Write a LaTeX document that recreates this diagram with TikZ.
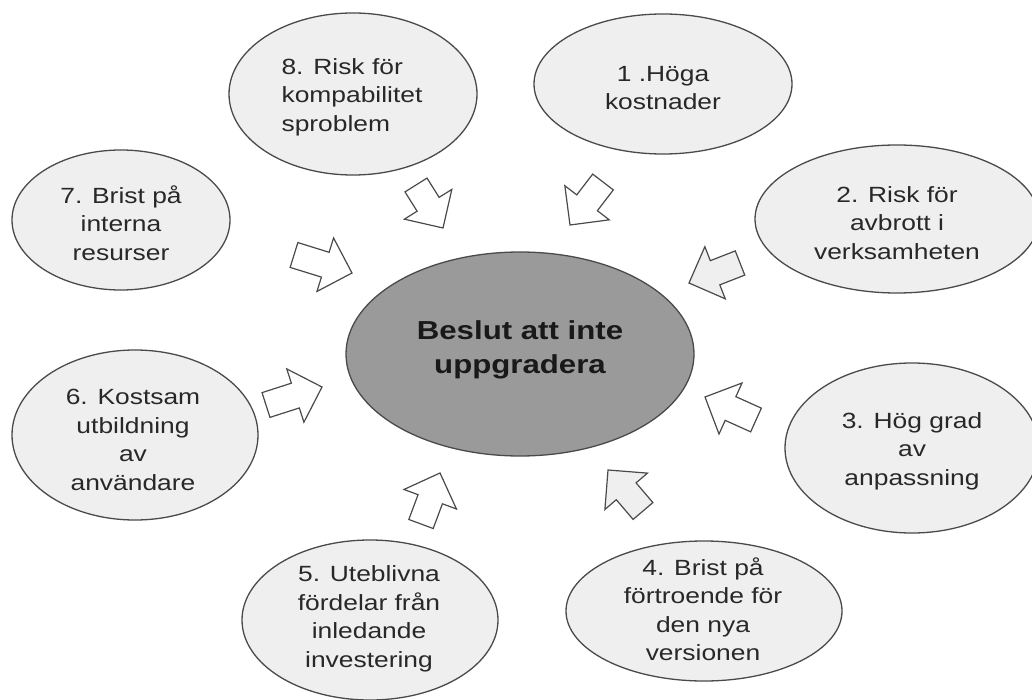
\documentclass[tikz,border=0pt]{standalone}
\usepackage{fontspec}
\setmainfont{Liberation Sans}[FakeStretch=1.2]
\usetikzlibrary{shapes.geometric,calc}
\definecolor{bubfill}{HTML}{EFEFEF}
\definecolor{ctrfill}{HTML}{9A9A9A}
\definecolor{edgecol}{HTML}{4A4A4A}
\definecolor{txtcol}{HTML}{282828}
\tikzset{
  bub/.style={ellipse, draw=edgecol, fill=bubfill, line width=1.3pt, inner sep=0pt},
  lbl/.style={text=txtcol, align=center, font=\fontsize{22}{28.5}\selectfont, inner sep=0pt},
  ctrlbl/.style={text=black!90, align=center, font=\fontsize{26}{34}\selectfont\bfseries, inner sep=0pt},
  blk/.style={draw=edgecol, line width=1.2pt, fill=white, line join=miter},
  blkgray/.style={blk, fill=bubfill}
}
% #1 name, #2 style, #3 tail centre, #4 tip
\newcommand\blockarrow[4]{%
  \coordinate (#1t) at (#3);
  \coordinate (#1h) at (#4);
  \coordinate (#1b) at ($(#1h)!28pt!(#1t)$);
  \draw[#2] ($(#1t)!13pt!90:(#1h)$) -- ($(#1b)!13pt!90:(#1h)$) -- ($(#1b)!28pt!90:(#1h)$)
    -- (#1h) -- ($(#1b)!28pt!-90:(#1h)$) -- ($(#1b)!13pt!-90:(#1h)$) -- ($(#1t)!13pt!-90:(#1h)$) -- cycle;
}
\begin{document}
\begin{tikzpicture}[x=1pt,y=-1pt]
\useasboundingbox (0,0) rectangle (1032,700);

% central ellipse
\node[bub, fill=ctrfill, minimum width=348pt, minimum height=204pt] (c) at (520,354) {};
\node[ctrlbl] (ct) at (520,350) {Beslut att inte\\uppgradera};

% surrounding ellipses
\node[bub, minimum width=248pt, minimum height=162pt] (e8) at (353,94) {};
\node[lbl, align=left] (t8) at (352,97) {8. Risk för\\kompabilitet\\sproblem};

\node[bub, minimum width=258pt, minimum height=140pt] (e1) at (663,84) {};
\node[lbl] (t1) at (663,88) {1 .Höga\\kostnader};

\node[bub, minimum width=284pt, minimum height=148pt] (e2) at (897,219) {};
\node[lbl] (t2) at (897,223) {2. Risk för\\avbrott i\\verksamheten};

\node[bub, minimum width=218pt, minimum height=140pt] (e7) at (121,220) {};
\node[lbl] (t7) at (121,223) {7. Brist på\\interna\\resurser};

\node[bub, minimum width=246pt, minimum height=170pt] (e6) at (135,435) {};
\node[lbl] (t6) at (133,440) {6. Kostsam\\utbildning\\av\\användare};

\node[bub, minimum width=254pt, minimum height=170pt] (e3) at (912,448) {};
\node[lbl] (t3) at (912,451) {3. Hög grad\\av\\anpassning};

\node[bub, minimum width=256pt, minimum height=160pt] (e5) at (370,620) {};
\node[lbl] (t5) at (369,619) {5. Uteblivna\\fördelar från\\inledande\\investering};

\node[bub, minimum width=276pt, minimum height=140pt] (e4) at (704,611) {};
\node[lbl] (t4) at (703,609) {4. Brist på\\förtroende för\\den nya\\versionen};

% block arrows pointing to the centre
\blockarrow{a8}{blk}{416,185}{443,228}
\blockarrow{a1}{blk}{603,182}{570,225}
\blockarrow{a2}{blkgray}{740,263}{689,283}
\blockarrow{a3}{blk}{756,420}{705,397}
\blockarrow{a4}{blkgray}{643,511}{608,470}
\blockarrow{a5}{blk}{421,524}{440,473}
\blockarrow{a6}{blk}{266,405}{322,387}
\blockarrow{a7}{blk}{294,255}{352,273}
\end{tikzpicture}
\end{document}
